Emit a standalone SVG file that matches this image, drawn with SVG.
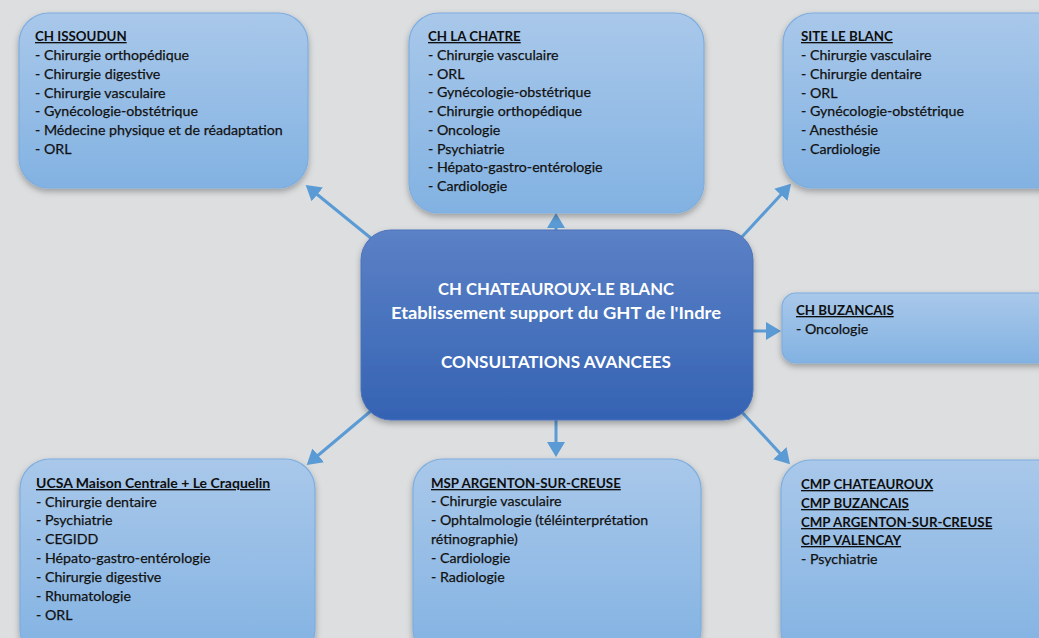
<svg xmlns="http://www.w3.org/2000/svg" width="1039" height="638" viewBox="0 0 1039 638">
<defs>
<linearGradient id="gNode" x1="0" y1="0" x2="0" y2="1">
<stop offset="0" stop-color="#a9c8ea"/>
<stop offset="1" stop-color="#82b2e2"/>
</linearGradient>
<linearGradient id="gCenter" x1="0" y1="0" x2="0" y2="1">
<stop offset="0" stop-color="#5b81c6"/>
<stop offset="1" stop-color="#3563b3"/>
</linearGradient>
<filter id="sh" x="-10%" y="-10%" width="120%" height="130%">
<feDropShadow dx="0" dy="3" stdDeviation="3" flood-color="#000" flood-opacity="0.3"/>
</filter>
<marker id="ah" markerWidth="6" markerHeight="6" refX="4" refY="3" orient="auto" markerUnits="strokeWidth">
<path d="M0,0 L5,3 L0,6 Z" fill="#5b9bd5"/>
</marker>
<style>
.node{fill:url(#gNode);stroke:#7eaee0;stroke-width:1.2;filter:url(#sh)}
.center{fill:url(#gCenter);stroke:#4a72bb;stroke-width:1;filter:url(#sh)}
.t{font-family:Lato,"Liberation Sans",sans-serif;font-size:14.2px;fill:#0e0e0e;stroke:#1a1a1a;stroke-width:0.25}
.h{font-weight:bold;font-size:13.3px;text-decoration:underline;stroke-width:0}
.hm{font-size:14px}
.c{font-family:Lato,"Liberation Sans",sans-serif;font-size:17px;font-weight:bold;fill:#ffffff;text-anchor:middle}
.conn{stroke:#5b9bd5;stroke-width:3;fill:none;marker-end:url(#ah)}
</style>
</defs>
<rect x="0" y="0" width="1039" height="638" fill="#dcdee0"/>

<g id="connectors">
<line class="conn" x1="372" y1="239" x2="308" y2="187"/>
<line class="conn" x1="556" y1="230" x2="556" y2="216"/>
<line class="conn" x1="740" y1="239" x2="789" y2="186"/>
<line class="conn" x1="752" y1="331" x2="778" y2="331"/>
<line class="conn" x1="372" y1="410" x2="309" y2="463"/>
<line class="conn" x1="556" y1="420" x2="556" y2="454"/>
<line class="conn" x1="740" y1="410" x2="788" y2="462"/>
</g>

<g id="ch-issoudun">
<rect class="node" x="19" y="13" width="289" height="175" rx="30"/>
<text class="t"><tspan class="h" x="35" y="41">CH ISSOUDUN</tspan><tspan x="35" y="60">- Chirurgie orthopédique</tspan><tspan x="35" y="79">- Chirurgie digestive</tspan><tspan x="35" y="98">- Chirurgie vasculaire</tspan><tspan x="35" y="116">- Gynécologie-obstétrique</tspan><tspan x="35" y="135">- Médecine physique et de réadaptation</tspan><tspan x="35" y="154">- ORL</tspan></text>
</g>

<g id="ch-la-chatre">
<rect class="node" x="409" y="13" width="295" height="200" rx="30"/>
<text class="t"><tspan class="h" x="428" y="41">CH LA CHATRE</tspan><tspan x="428" y="60">- Chirurgie vasculaire</tspan><tspan x="428" y="79">- ORL</tspan><tspan x="428" y="97">- Gynécologie-obstétrique</tspan><tspan x="428" y="116">- Chirurgie orthopédique</tspan><tspan x="428" y="135">- Oncologie</tspan><tspan x="428" y="154">- Psychiatrie</tspan><tspan x="428" y="172">- Hépato-gastro-entérologie</tspan><tspan x="428" y="191">- Cardiologie</tspan></text>
</g>

<g id="site-le-blanc">
<rect class="node" x="783" y="13" width="290" height="175" rx="30"/>
<text class="t"><tspan class="h" x="801" y="41">SITE LE BLANC</tspan><tspan x="801" y="60">- Chirurgie vasculaire</tspan><tspan x="801" y="79">- Chirurgie dentaire</tspan><tspan x="801" y="98">- ORL</tspan><tspan x="801" y="116">- Gynécologie-obstétrique</tspan><tspan x="801" y="135">- Anesthésie</tspan><tspan x="801" y="154">- Cardiologie</tspan></text>
</g>

<g id="ch-chateauroux">
<rect class="center" x="361" y="230" width="392" height="190" rx="30"/>
<text class="c" x="556" y="295" textLength="236" lengthAdjust="spacingAndGlyphs">CH CHATEAUROUX-LE BLANC</text>
<text class="c" x="556" y="319" textLength="330" lengthAdjust="spacingAndGlyphs">Etablissement support du GHT de l'Indre</text>
<text class="c" x="556" y="368" textLength="230" lengthAdjust="spacingAndGlyphs">CONSULTATIONS AVANCEES</text>
</g>

<g id="ch-buzancais">
<rect class="node" x="782" y="293" width="290" height="70" rx="14"/>
<text class="t"><tspan class="h" x="796" y="315">CH BUZANCAIS</tspan><tspan x="796" y="334">- Oncologie</tspan></text>
</g>

<g id="ucsa">
<rect class="node" x="20" y="459" width="295" height="200" rx="30"/>
<text class="t"><tspan class="h hm" x="36" y="488">UCSA Maison Centrale + Le Craquelin</tspan><tspan x="36" y="507">- Chirurgie dentaire</tspan><tspan x="36" y="525">- Psychiatrie</tspan><tspan x="36" y="544">- CEGIDD</tspan><tspan x="36" y="563">- Hépato-gastro-entérologie</tspan><tspan x="36" y="582">- Chirurgie digestive</tspan><tspan x="36" y="601">- Rhumatologie</tspan><tspan x="36" y="620">- ORL</tspan></text>
</g>

<g id="msp-argenton">
<rect class="node" x="413" y="459" width="288" height="200" rx="30"/>
<text class="t"><tspan class="h" x="431" y="488">MSP ARGENTON-SUR-CREUSE</tspan><tspan x="431" y="506">- Chirurgie vasculaire</tspan><tspan x="431" y="525">- Ophtalmologie (téléinterprétation</tspan><tspan x="431" y="544">rétinographie)</tspan><tspan x="431" y="563">- Cardiologie</tspan><tspan x="431" y="582">- Radiologie</tspan></text>
</g>

<g id="cmp">
<rect class="node" x="781" y="460" width="290" height="200" rx="30"/>
<text class="t"><tspan class="h" x="801" y="489">CMP CHATEAUROUX</tspan><tspan class="h" x="801" y="508">CMP BUZANCAIS</tspan><tspan class="h" x="801" y="527">CMP ARGENTON-SUR-CREUSE</tspan><tspan class="h" x="801" y="545">CMP VALENCAY</tspan><tspan x="801" y="564">- Psychiatrie</tspan></text>
</g>
</svg>
